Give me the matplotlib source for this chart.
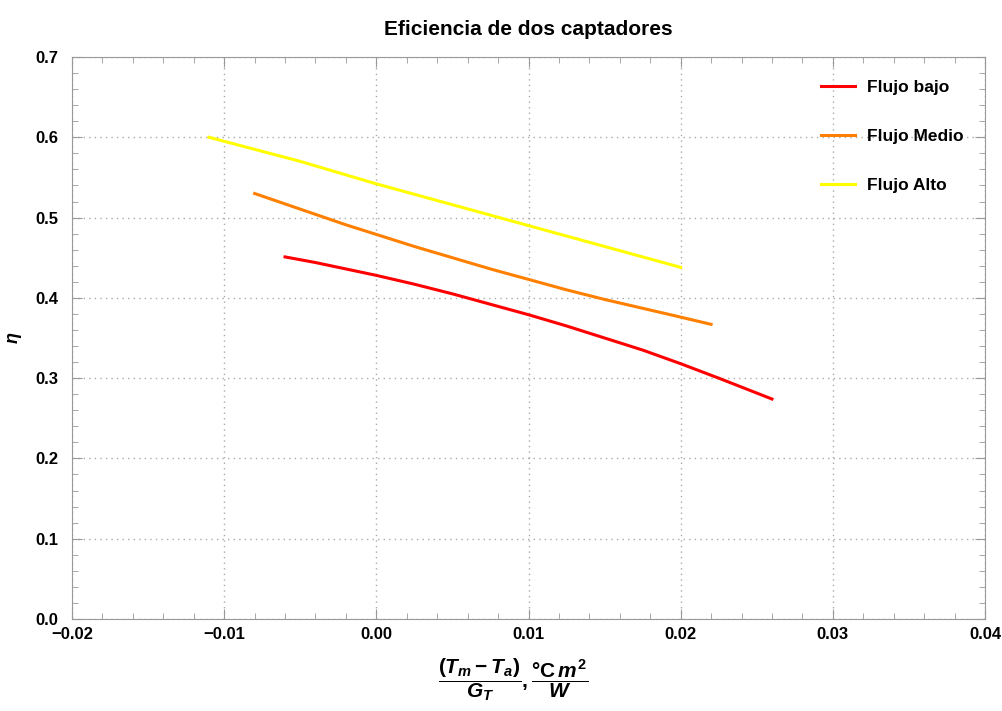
import matplotlib
matplotlib.use("Agg")
import matplotlib.pyplot as plt
from matplotlib.ticker import MultipleLocator, FuncFormatter

plt.rcParams['font.family'] = ['Liberation Sans', 'DejaVu Sans']
plt.rcParams['mathtext.fontset'] = 'custom'
plt.rcParams['mathtext.rm'] = 'Liberation Sans:bold'
plt.rcParams['mathtext.it'] = 'Liberation Sans:italic:bold'
plt.rcParams['mathtext.bf'] = 'Liberation Sans:bold'

# Data
x_bajo = [-0.006, -0.004, -0.002, 0.000, 0.0025, 0.005, 0.0075, 0.010, 0.0125,
          0.015, 0.0175, 0.020, 0.0225, 0.026]
y_bajo = [0.451, 0.444, 0.436, 0.428, 0.417, 0.405, 0.392, 0.379, 0.365,
          0.350, 0.335, 0.318, 0.300, 0.274]
x_medio = [-0.008, -0.006, -0.004, -0.002, 0.000, 0.0025, 0.005, 0.0075, 0.010,
           0.0125, 0.015, 0.0175, 0.020, 0.022]
y_medio = [0.530, 0.517, 0.504, 0.491, 0.479, 0.464, 0.450, 0.436, 0.423,
           0.410, 0.398, 0.387, 0.376, 0.367]
x_alto = [-0.011, -0.005, 0.000, 0.005, 0.010, 0.015, 0.020]
y_alto = [0.600, 0.570, 0.542, 0.516, 0.490, 0.464, 0.438]

labels = ["Flujo bajo", "Flujo Medio", "Flujo Alto"]
colors = ["#FF0000", "#FF8000", "#FFFF00"]

fig = plt.figure(figsize=(10.03, 7.11), dpi=100)
ax = fig.add_axes([72/1003, 1-619/711, (985-72)/1003, (619-57)/711])

ax.plot(x_bajo, y_bajo, color=colors[0], lw=2.2, label=labels[0])
ax.plot(x_medio, y_medio, color=colors[1], lw=2.2, label=labels[1])
ax.plot(x_alto, y_alto, color=colors[2], lw=2.2, label=labels[2])

ax.set_xlim(-0.02, 0.04)
ax.set_ylim(0.0, 0.7)
ax.xaxis.set_major_locator(MultipleLocator(0.01))
ax.xaxis.set_minor_locator(MultipleLocator(0.002))
ax.yaxis.set_major_locator(MultipleLocator(0.1))
ax.yaxis.set_minor_locator(MultipleLocator(0.02))
ax.xaxis.set_major_formatter(FuncFormatter(lambda v, p: f"{v:.2f}".replace('-', '\u2212')))
ax.yaxis.set_major_formatter(FuncFormatter(lambda v, p: f"{v:.1f}".replace('-', '\u2212')))

ax.grid(True, which='major', linestyle=(0, (1, 3)), color='#aaaaaa', lw=1)
for s in ax.spines.values():
    s.set_color('#999999')
ax.tick_params(which='both', direction='in', top=True, right=True, color='#999999')
ax.tick_params(axis='y', which='major', length=7, labelsize=12, pad=10)
ax.tick_params(axis='x', which='major', length=7, labelsize=12, pad=6)
ax.tick_params(which='minor', length=4)
for lab in ax.get_xticklabels() + ax.get_yticklabels():
    lab.set_fontweight('bold')

ax.set_title("Eficiencia de dos captadores", fontsize=15, fontweight='bold', pad=16)
ax.set_ylabel(r"$\eta$", fontsize=13, labelpad=8)
ax.set_xlabel(r"$\dfrac{(T_m - T_a)}{G_T}, \dfrac{\mathrm{°C}\,m^2}{W}$", fontsize=15)
ax.xaxis.set_label_coords((513 - 72) / 913, -0.066, transform=ax.transAxes)
ax.xaxis.label.set_va('top')

leg = ax.legend(loc='upper left', bbox_to_anchor=(0.803, 0.987), frameon=False,
                prop={'weight': 'bold', 'size': 12.5}, labelspacing=1.95,
                handlelength=2.0, handletextpad=0.65)

fig.savefig("out.png", dpi=100)
